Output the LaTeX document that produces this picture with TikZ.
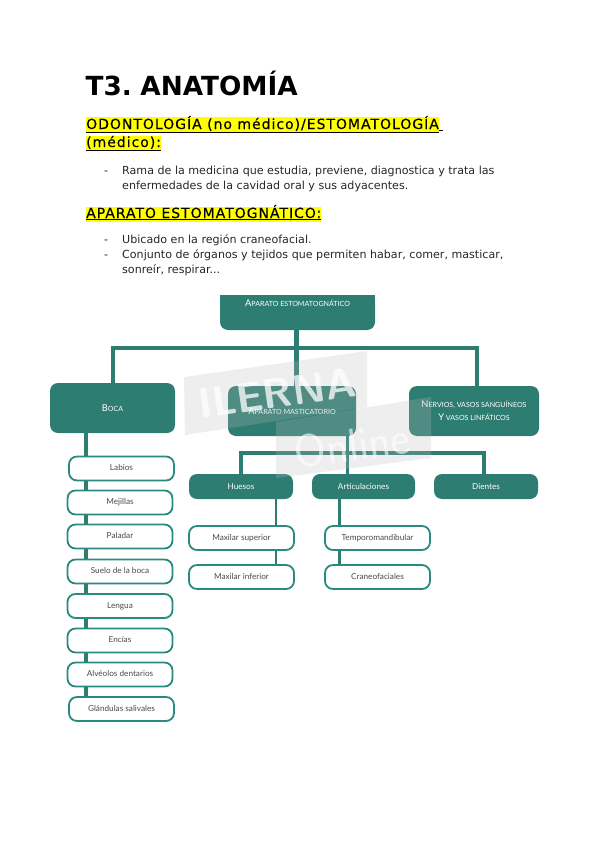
\documentclass[tikz,border=0pt]{standalone}
\usepackage{fontspec}
\setmainfont{DejaVu Sans}
\newfontfamily\esquema{Lato}
\newfontfamily\rotulo[LetterSpace=7,FakeBold=0.25]{DejaVu Sans}
\usepackage{xcolor}
\usetikzlibrary{backgrounds}
\definecolor{verde}{HTML}{2E7D72}
\definecolor{amarillo}{HTML}{FFFF00}
\definecolor{gris}{HTML}{4A4A4A}
\definecolor{marca}{HTML}{BBBBBB}
\newcommand{\versal}[2]{{\fontsize{9.3}{10}\selectfont #1}{\fontsize{7.1}{10}\selectfont #2}}
\newcommand{\letratitulo}{\fontsize{26.3}{30}\selectfont\bfseries\spaceskip 5.5pt\relax}
\begin{document}
\begin{tikzpicture}[
  x=1pt, y=-1pt,
  font=\fontsize{11.1}{15.6}\selectfont,
  titulo/.style={anchor=base west, inner sep=0pt, font=\letratitulo},
  seccion/.style={anchor=base west, fill=amarillo, inner sep=0pt, text height=11.5pt, text depth=4pt,
    font=\rotulo\fontsize{14}{17}\selectfont},
  parrafo/.style={anchor=base west, inner sep=0pt, text=black!85},
  verdebox/.style={fill=verde, rounded corners=8pt, minimum width=#1, inner sep=0pt},
  cajita/.style={draw=verde!90!cyan, fill=white, line width=1.8pt, rounded corners=8pt, inner sep=0pt,
    minimum width=#1, minimum height=24pt, text height=6pt, text depth=2pt, text=gris,
    font=\esquema\fontsize{8.2}{10}\selectfont},
  textoverde/.style={text=white, align=center, inner sep=0pt, font=\esquema},
  rama/.style={verde, line width=#1},
  rama/.default=4pt,
  sello/.style={fill=marca, fill opacity=.25, draw=none}
]
  \useasboundingbox (0,0) rectangle (599,848);

  \node[titulo] (tema) at (85.5,96) {T3. ANATOMÍA};
  \node[seccion] (odonto) at (86,129) {\underline{ODONTOLOGÍA (no médico)/ESTOMATOLOGÍA\rlap{\underline{\hspace{4pt}}}}};
  \node[seccion] (medico) at (86,147) {\underline{(médico):}};
  \node[parrafo] (guion1) at (104,174) {-};
  \node[parrafo] (rama1) at (122,174) {Rama de la medicina que estudia, previene, diagnostica y trata las};
  \node[parrafo] (rama2) at (122,189.5) {enfermedades de la cavidad oral y sus adyacentes.};
  \node[seccion] (aparatotit) at (86,218) {\underline{APARATO ESTOMATOGNÁTICO:}};
  \node[parrafo] (guion2) at (104,243) {-};
  \node[parrafo] (ubicado) at (122,243) {Ubicado en la región craneofacial.};
  \node[parrafo] (guion3) at (104,258) {-};
  \node[parrafo] (conjunto1) at (122,258) {Conjunto de órganos y tejidos que permiten habar, comer, masticar,};
  \node[parrafo] (conjunto2) at (122,273.5) {sonreír, respirar...};

  % cajas verdes
  \node[verdebox=155pt, minimum height=35pt] (aparato) at (297.5,312.5) {};
  \node[textoverde] (aparatotxt) at (297.5,303) {\versal{A}{PARATO ESTOMATOGNÁTICO}};
  \node[verdebox=125pt, minimum height=50pt, textoverde] (boca) at (112.5,408) {\versal{B}{OCA}};
  \node[verdebox=128pt, minimum height=50pt, textoverde] (masticatorio) at (292,411) {\versal{A}{PARATO MASTICATORIO}};
  \node[verdebox=130pt, minimum height=50pt, textoverde] (nervios) at (474,411) {\versal{N}{ERVIOS, VASOS SANGUÍNEOS}\\[1pt]\versal{Y}{ VASOS LINFÁTICOS}};
  \node[verdebox=104pt, minimum height=25pt, textoverde, font=\esquema\fontsize{8.2}{10}\selectfont] (huesos) at (241,486.5) {Huesos};
  \node[verdebox=103pt, minimum height=25pt, textoverde, font=\esquema\fontsize{8.2}{10}\selectfont] (articulaciones) at (363.5,486.5) {Articulaciones};
  \node[verdebox=104pt, minimum height=25pt, textoverde, font=\esquema\fontsize{8.2}{10}\selectfont] (dientes) at (486,486.5) {Dientes};

  % cajas blancas
  \node[cajita=105pt] (labios) at (121.5,468.5) {Labios};
  \node[cajita=105pt] (mejillas) at (120,502.5) {Mejillas};
  \node[cajita=105pt] (paladar) at (120,536.5) {Paladar};
  \node[cajita=105pt] (suelo) at (120,571.5) {Suelo de la boca};
  \node[cajita=105pt] (lengua) at (120,606) {Lengua};
  \node[cajita=105pt] (encias) at (120,640.5) {Encías};
  \node[cajita=105pt] (alveolos) at (120,674.5) {Alvéolos dentarios};
  \node[cajita=105pt] (glandulas) at (121.5,709) {Glándulas salivales};
  \node[cajita=105pt] (superior) at (241.5,538) {Maxilar superior};
  \node[cajita=105pt] (inferior) at (241.5,577) {Maxilar inferior};
  \node[cajita=105pt] (temporo) at (377.5,538) {Temporomandibular};
  \node[cajita=105pt] (craneo) at (377.5,577) {Craneofaciales};

  \coordinate (busa) at (113,348);
  \coordinate (busb) at (477,348);
  \coordinate (troncoa) at (296,348);
  \coordinate (busc) at (241,453);
  \coordinate (busd) at (484,453);
  \coordinate (troncob) at (347,453);
  \coordinate (ejeboca) at (85.5,440);
  \coordinate (ejehueso) at (276,510);
  \coordinate (ejearti) at (339,510);

  \begin{scope}[on background layer]
    \fill[verde] (aparato.north west) rectangle ([yshift=-12pt]aparato.north east);
    \draw[rama=5pt] (troncoa |- aparato.south) -- (troncoa |- masticatorio.north);
    \draw[rama] (busa |- boca.north) -- (busa) -- (busb) -- (busb |- nervios.north);
    \draw[rama=3pt] (troncob |- masticatorio.south) -- (troncob |- articulaciones.north);
    \draw[rama=3.5pt] (busc |- huesos.north) -- (busc) -- (busd) -- (busd |- dientes.north);
    \draw[rama=4pt] (ejeboca |- boca.south) -- (ejeboca |- glandulas.north);
    \draw[rama=2pt] (ejehueso |- huesos.south) -- (ejehueso |- inferior.north);
    \draw[rama=3pt] (ejearti |- articulaciones.south) -- (ejearti |- craneo.north);
  \end{scope}

  % marca de agua
  \fill[sello] (184,377) -- (367,351) -- (367,407) -- (185,435) -- cycle;
  \fill[sello] (276,422) -- (431,397) -- (431,458) -- (276,478) -- cycle;
  \node[text=white, opacity=.75, rotate=8, inner sep=0pt, font=\sffamily\bfseries\fontsize{42}{42}\selectfont] (ilerna) at (277,393) {ILERNA};
  \node[text=white, opacity=.6, rotate=8, inner sep=0pt, font=\sffamily\fontsize{46}{46}\selectfont] (online) at (352,445) {Online};
\end{tikzpicture}
\end{document}
